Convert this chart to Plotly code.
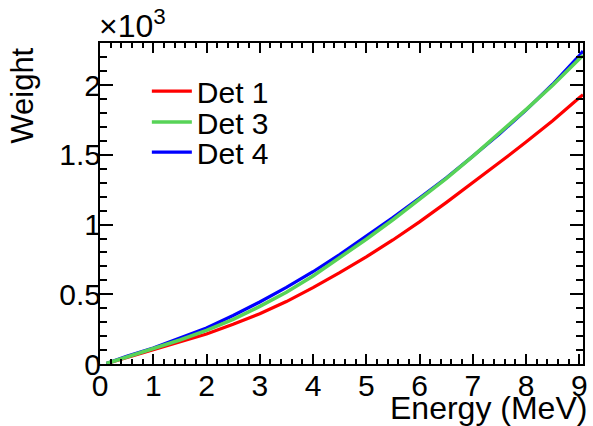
import plotly.graph_objects as go

energy = [0.12, 0.5, 1.0, 1.5, 2.0, 2.5, 3.0, 3.5, 4.0, 4.5, 5.0, 5.5, 6.0, 6.5, 7.0, 7.5, 8.0, 8.5, 9.0, 9.07]
det1 = [3, 45, 100, 155, 215, 285, 360, 448, 548, 655, 768, 890, 1020, 1158, 1300, 1445, 1592, 1745, 1910, 1932]
det3 = [3, 50, 108, 172, 241, 320, 414, 515, 632, 760, 895, 1035, 1180, 1330, 1490, 1655, 1825, 2000, 2195, 2215]
det4 = [3, 55, 115, 185, 258, 348, 445, 550, 662, 785, 915, 1050, 1190, 1335, 1490, 1650, 1822, 2007, 2212, 2245]

x_ticks = [0, 1, 2, 3, 4, 5, 6, 7, 8, 9]
y_ticks = [0, 500, 1000, 1500, 2000]
y_labels = ["0", "0.5", "1", "1.5", "2"]

FONT = "Liberation Sans, Arial, sans-serif"
X_RANGE = [0, 9.07]
Y_RANGE = [0, 2303]

fig = go.Figure()
fig.add_trace(go.Scatter(x=energy, y=det1, mode="lines", name="Det 1",
                         line=dict(color="#ff0000", width=3.2), legend="legend"))
fig.add_trace(go.Scatter(x=energy, y=det4, mode="lines", name="Det 4",
                         line=dict(color="#0000ff", width=3.2), legend="legend3"))
fig.add_trace(go.Scatter(x=energy, y=det3, mode="lines", name="Det 3",
                         line=dict(color="#57d357", width=3.6), legend="legend2"))
# invisible trace to activate the mirrored (top/right) axes carrying minor ticks
fig.add_trace(go.Scatter(x=energy, y=det1, mode="lines", xaxis="x2", yaxis="y2",
                         line=dict(color="rgba(0,0,0,0)", width=0), showlegend=False,
                         hoverinfo="skip"))

tick_font = dict(family=FONT, size=30, color="black")
common = dict(showgrid=False, zeroline=False, showline=True, linecolor="black",
              linewidth=2, ticks="inside", tickcolor="black", tickwidth=1.5)

fig.update_layout(
    xaxis=dict(range=X_RANGE, tickvals=x_ticks, ticklen=10, mirror=True,
               minor=dict(ticks="inside", dtick=0.2, ticklen=5, tickcolor="black", tickwidth=1.5),
               ticklabelstandoff=-6, tickfont=tick_font, **common),
    yaxis=dict(range=Y_RANGE, tickvals=y_ticks, ticktext=y_labels, ticklen=13, mirror=True,
               minor=dict(ticks="inside", dtick=100, ticklen=7, tickcolor="black", tickwidth=1.5),
               ticklabelstandoff=-9, tickfont=tick_font, **common),
    xaxis2=dict(range=X_RANGE, overlaying="x", side="top", anchor="y", tickvals=x_ticks,
                ticklen=10, showticklabels=False,
                minor=dict(ticks="inside", dtick=0.2, ticklen=5, tickcolor="black", tickwidth=1.5),
                **common),
    yaxis2=dict(range=Y_RANGE, overlaying="y", side="right", anchor="x", tickvals=y_ticks,
                ticklen=13, showticklabels=False,
                minor=dict(ticks="inside", dtick=100, ticklen=7, tickcolor="black", tickwidth=1.5),
                **common),
)

legend_common = dict(x=0.097, xanchor="left", yanchor="middle",
                     font=dict(family=FONT, size=30, color="black"),
                     bgcolor="rgba(0,0,0,0)", itemwidth=40)

fig.update_layout(
    width=593, height=426,
    margin=dict(l=100, r=5, t=43, b=62),
    paper_bgcolor="white", plot_bgcolor="white",
    font=dict(family=FONT, color="black"),
    showlegend=True,
    legend=dict(y=0.850, **legend_common),
    legend2=dict(y=0.754, **legend_common),
    legend3=dict(y=0.660, **legend_common),
    annotations=[
        dict(text="Energy (MeV)", xref="paper", yref="paper", x=1.012, y=-0.074,
             xanchor="right", yanchor="top", showarrow=False,
             font=dict(family=FONT, size=32, color="black")),
        dict(text="Weight", xref="paper", yref="paper", x=-0.16, y=0.835,
             xanchor="center", yanchor="middle", textangle=-90, showarrow=False,
             font=dict(family=FONT, size=31, color="black")),
        dict(text="×10<sup>3</sup>", xref="paper", yref="paper", x=-0.006, y=0.99,
             xanchor="left", yanchor="bottom", showarrow=False,
             font=dict(family=FONT, size=32, color="black")),
    ],
)

fig.write_html("out.html", config={"displayModeBar": False},
               post_script="document.body.style.margin='0px';")
